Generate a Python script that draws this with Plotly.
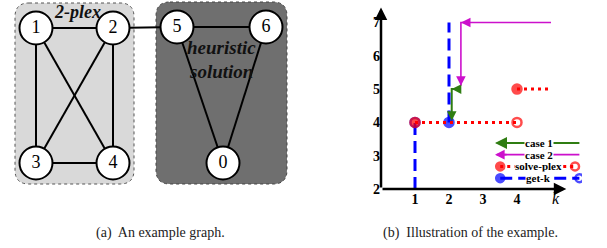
import plotly.graph_objects as go

# ---------------- data: example graph (left) ----------------
node_ids = ["1", "2", "3", "4", "5", "6", "0"]
node_x = [36, 113, 36, 113, 177, 266, 223]
node_y = [28, 28, 163, 163, 27, 27, 163]
edges = [("1", "2"), ("1", "3"), ("1", "4"), ("2", "3"), ("2", "4"), ("3", "4"),
         ("2", "5"), ("5", "6"), ("5", "0"), ("6", "0")]
group_plex = ["1", "2", "3", "4"]
group_heur = ["5", "6", "0"]

# ---------------- data: illustration (right) ----------------
k_ticks = [1, 2, 3, 4]
n_ticks = [2, 3, 4, 5, 6, 7]
case1_k = [2.32, 2.08, 2.08]
case1_n = [5.0, 5.0, 4.05]
case2_k = [5.0, 2.35, 2.35]
case2_n = [7.0, 7.0, 5.1]
solve_k = [[1, 4], [4, 5]]
solve_n = [[4, 4], [5, 5]]
solve_sym = [["circle", "circle-open"], ["circle", None]]
getk_k = [[1, 1], [2, 2]]
getk_n = [[2, 4], [4, 7]]
getk_sym = [[None, "circle-open"], ["circle", None]]
legend_names = ["case 1", "case 2", "solve-plex", "get-k"]

SERIF = "Liberation Serif"
GREEN = "#2f7d12"
MAGENTA = "#cc10cc"
RED = "#ff0000"
BLUE = "#0000ff"
BLUE_DASH = "12px,6px"
RED_DOT = "3px,4px"

pos = dict(zip(node_ids, zip(node_x, node_y)))
fig = go.Figure()

# ---- left panel: edges + nodes ----
ex, ey = [], []
for a, b in edges:
    ex += [pos[a][0], pos[b][0], None]
    ey += [pos[a][1], pos[b][1], None]
fig.add_trace(go.Scatter(x=ex, y=ey, mode="lines", line=dict(color="black", width=2),
                         xaxis="x", yaxis="y", showlegend=False, hoverinfo="skip"))
fig.add_trace(go.Scatter(x=node_x, y=node_y, mode="markers+text", text=node_ids,
                         textposition="middle center",
                         textfont=dict(family=SERIF, size=18, color="black"),
                         marker=dict(size=33, color="white", line=dict(color="black", width=2)),
                         xaxis="x", yaxis="y", showlegend=False, hoverinfo="skip"))


def rounded_box(ids, padx=21, pad_top=25, pad_bot=21, r=14):
    xs = [pos[i][0] for i in ids]
    ys = [pos[i][1] for i in ids]
    x0, x1 = min(xs) - padx, max(xs) + padx
    y0, y1 = min(ys) - pad_top, max(ys) + pad_bot
    return (f"M {x0+r},{y0} L {x1-r},{y0} Q {x1},{y0} {x1},{y0+r} "
            f"L {x1},{y1-r} Q {x1},{y1} {x1-r},{y1} L {x0+r},{y1} "
            f"Q {x0},{y1} {x0},{y1-r} L {x0},{y0+r} Q {x0},{y0} {x0+r},{y0} Z")


shapes = [
    dict(type="path", path=rounded_box(group_plex), xref="x", yref="y",
         fillcolor="#d9d9d9", line=dict(color="#555555", width=1, dash="dot"), layer="below"),
    dict(type="path", path=rounded_box(group_heur), xref="x", yref="y",
         fillcolor="#6f6f6f", line=dict(color="#444444", width=1, dash="dot"), layer="below"),
]

annotations = [
    dict(x=77, y=12, xref="x", yref="y", text="<b><i>2-plex</i></b>", showarrow=False,
         font=dict(family=SERIF, size=18, color="#111111")),
    dict(x=221, y=47, xref="x", yref="y", text="<b><i>heuristic</i></b>", showarrow=False,
         font=dict(family=SERIF, size=19, color="#111111")),
    dict(x=221, y=71, xref="x", yref="y", text="<b><i>solution</i></b>", showarrow=False,
         font=dict(family=SERIF, size=19, color="#111111")),
]

# ---- right panel ----
fig.add_trace(go.Scatter(x=case1_k, y=case1_n, mode="lines", showlegend=False,
                         line=dict(color=GREEN, width=2), xaxis="x2", yaxis="y2"))
fig.add_trace(go.Scatter(x=case2_k, y=case2_n, mode="lines", showlegend=False,
                         line=dict(color=MAGENTA, width=1.6), xaxis="x2", yaxis="y2"))


def seg_trace(ks, ns, syms, color, dash, width, xa, ya, msize=9):
    x, y, s, sz = [], [], [], []
    for kk, nn, ss in zip(ks, ns, syms):
        x += list(kk) + [None]
        y += list(nn) + [None]
        s += [v if v else "circle" for v in ss] + ["circle"]
        sz += [msize if v else 0 for v in ss] + [0]
    return go.Scatter(x=x, y=y, mode="lines+markers", showlegend=False, hoverinfo="skip",
                      line=dict(color=color, dash=dash, width=width),
                      marker=dict(symbol=s, size=sz, color=color,
                                  line=dict(color=color, width=2.5)),
                      xaxis=xa, yaxis=ya)


fig.add_trace(seg_trace(getk_k, getk_n, getk_sym, BLUE, BLUE_DASH, 3, "x2", "y2"))
fig.add_trace(seg_trace(solve_k, solve_n, solve_sym, RED, RED_DOT, 3, "x2", "y2"))


def arrow(hx, hy, tx, ty, col, xr, yr, w=1.6):
    return dict(x=hx, y=hy, ax=tx, ay=ty, xref=xr, yref=yr, axref=xr, ayref=yr,
                showarrow=True, arrowhead=2, arrowsize=1.2, arrowwidth=w,
                arrowcolor=col, text="")


for ks, ns, col in [(case1_k, case1_n, GREEN), (case2_k, case2_n, MAGENTA)]:
    for i in range(1, len(ks)):
        dx, dy = ks[i] - ks[i - 1], ns[i] - ns[i - 1]
        L = (dx ** 2 + dy ** 2) ** 0.5
        annotations.append(arrow(ks[i], ns[i], ks[i] - dx / L * 0.12,
                                 ns[i] - dy / L * 0.12, col, "x2", "y2"))

# axes with arrows
annotations += [
    dict(x=5.45, y=2, ax=0, ay=2, xref="x2", yref="y2", axref="x2", ayref="y2",
         showarrow=True, arrowhead=2, arrowsize=1, arrowwidth=2.5, arrowcolor="black", text=""),
    dict(x=0, y=7.45, ax=0, ay=2, xref="x2", yref="y2", axref="x2", ayref="y2",
         showarrow=True, arrowhead=2, arrowsize=1, arrowwidth=2.5, arrowcolor="black", text=""),
    dict(x=5.15, y=2, xref="x2", yref="y2", yshift=-9, text="<i>k</i>", showarrow=False,
         font=dict(family=SERIF, size=16, color="black")),
    dict(x=-0.3, y=7.55, xref="x2", yref="y2", text="<i>n</i>", showarrow=False,
         font=dict(family=SERIF, size=15, color="black")),
]

# ---- custom legend (rows 0..3 on its own hidden axes) ----
rows = list(range(len(legend_names)))
for r, col, w in [(0, GREEN, 2), (1, MAGENTA, 1.6)]:
    fig.add_trace(go.Scatter(x=[0.02, 0.97], y=[r, r], mode="lines", showlegend=False,
                             line=dict(color=col, width=w), xaxis="x3", yaxis="y3",
                             hoverinfo="skip"))
    annotations.append(arrow(0.0, r, 0.15, r, col, "x3", "y3", w))
fig.add_trace(seg_trace([[0.06, 0.92]], [[2, 2]], [["circle", "circle-open"]],
                        RED, RED_DOT, 3, "x3", "y3", msize=8))
fig.add_trace(seg_trace([[0.06, 0.97]], [[3, 3]], [["circle", "circle-open"]],
                        BLUE, BLUE_DASH, 3, "x3", "y3", msize=8))
for r, name in zip(rows, legend_names):
    annotations.append(dict(x=0.5, y=r, xref="x3", yref="y3", text=f"<b>{name}</b>",
                            showarrow=False, bgcolor="white", borderpad=0,
                            font=dict(family=SERIF, size=11, color="black")))

# captions
annotations += [
    dict(x=160 / 607, y=1 - 233 / 248, xref="paper", yref="paper", showarrow=False,
         xanchor="center", yanchor="middle",
         text="(a)  An example graph.", font=dict(family=SERIF, size=14, color="#222222")),
    dict(x=471 / 607, y=1 - 233 / 248, xref="paper", yref="paper", showarrow=False,
         xanchor="center", yanchor="middle",
         text="(b)  Illustration of the example.", font=dict(family=SERIF, size=14, color="#222222")),
]

fig.update_layout(
    width=607, height=248, margin=dict(l=0, r=0, t=0, b=0, autoexpand=False),
    paper_bgcolor="white", plot_bgcolor="rgba(0,0,0,0)", showlegend=False,
    hovermode=False,
    xaxis=dict(domain=[0, 303.5 / 607], range=[0, 303.5], visible=False, fixedrange=True),
    yaxis=dict(domain=[0, 1], range=[248, 0], visible=False, fixedrange=True),
    xaxis2=dict(domain=[381 / 607, (381 + 5.45 * 34) / 607], range=[0, 5.45], anchor="y2",
                tickvals=k_ticks, showgrid=False, zeroline=False, showline=False, ticks="",
                fixedrange=True,
                tickfont=dict(family=SERIF, size=14, color="black", weight="bold")),
    yaxis2=dict(domain=[(248 - 189) / 248, (248 - 189 + 5.45 * 33.3) / 248], range=[2, 7.45],
                anchor="x2", tickvals=n_ticks, showgrid=False, zeroline=False, showline=False,
                ticks="", fixedrange=True,
                tickfont=dict(family=SERIF, size=14, color="black", weight="bold")),
    xaxis3=dict(domain=[495 / 607, 582 / 607], range=[0, 1], anchor="y3", visible=False,
                fixedrange=True),
    yaxis3=dict(domain=[(248 - 184) / 248, (248 - 137) / 248], range=[3.5, -0.5],
                anchor="x3", visible=False, fixedrange=True),
    shapes=shapes, annotations=annotations,
)

fig.write_html("out.html", config={"displayModeBar": False, "staticPlot": True},
               post_script="document.body.style.margin='0';document.body.style.overflow='hidden';")
